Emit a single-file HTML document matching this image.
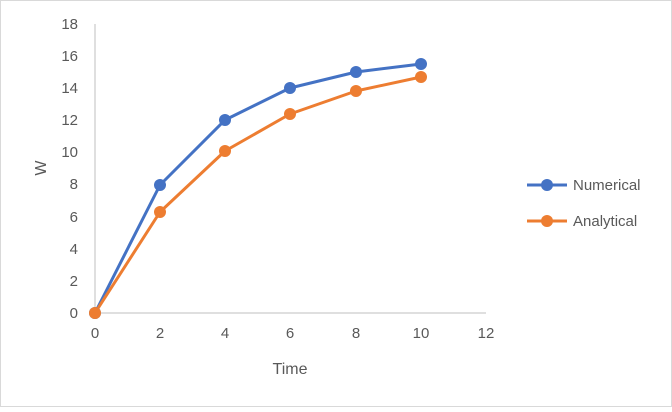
<!DOCTYPE html>
<html><head><style>
body{margin:0;background:#fff;}
text{font-family:"Liberation Sans",Arial,sans-serif;fill:#595959;}
</style></head><body>
<svg width="672" height="407" xmlns="http://www.w3.org/2000/svg">
<rect x="0.5" y="0.5" width="671" height="406" fill="#fff" stroke="#d9d9d9"/>
<line x1="95" y1="24" x2="95" y2="313" stroke="#bfbfbf" stroke-width="1"/>
<line x1="95" y1="313" x2="486" y2="313" stroke="#bfbfbf" stroke-width="1"/>
<g font-size="15" text-anchor="end">
<text x="78" y="318">0</text><text x="78" y="286">2</text><text x="78" y="254">4</text>
<text x="78" y="222">6</text><text x="78" y="189">8</text><text x="78" y="157">10</text>
<text x="78" y="125">12</text><text x="78" y="93">14</text><text x="78" y="61">16</text>
<text x="78" y="29">18</text>
</g>
<g font-size="15" text-anchor="middle">
<text x="95" y="338">0</text><text x="160" y="338">2</text><text x="225" y="338">4</text>
<text x="290" y="338">6</text><text x="356" y="338">8</text><text x="421" y="338">10</text>
<text x="486" y="338">12</text>
<text x="290" y="374" font-size="16">Time</text>
</g>
<text x="46" y="168" font-size="16" text-anchor="middle" transform="rotate(-90 46 168)">W</text>
<polyline points="95,313 160,185 225,120 290,88 356,72 421,64" fill="none" stroke="#4472c4" stroke-width="3" stroke-linejoin="round"/>
<polyline points="95,313 160,212 225,151 290,114 356,91 421,77" fill="none" stroke="#ed7d31" stroke-width="3" stroke-linejoin="round"/>
<g fill="#4472c4"><circle cx="95" cy="313" r="6"/><circle cx="160" cy="185" r="6"/><circle cx="225" cy="120" r="6"/><circle cx="290" cy="88" r="6"/><circle cx="356" cy="72" r="6"/><circle cx="421" cy="64" r="6"/></g>
<g fill="#ed7d31"><circle cx="95" cy="313" r="6"/><circle cx="160" cy="212" r="6"/><circle cx="225" cy="151" r="6"/><circle cx="290" cy="114" r="6"/><circle cx="356" cy="91" r="6"/><circle cx="421" cy="77" r="6"/></g>
<line x1="527" y1="185" x2="567" y2="185" stroke="#4472c4" stroke-width="3"/>
<circle cx="547" cy="185" r="6" fill="#4472c4"/>
<text x="573" y="190" font-size="15">Numerical</text>
<line x1="527" y1="221" x2="567" y2="221" stroke="#ed7d31" stroke-width="3"/>
<circle cx="547" cy="221" r="6" fill="#ed7d31"/>
<text x="573" y="226" font-size="15">Analytical</text>
</svg>
</body></html>
